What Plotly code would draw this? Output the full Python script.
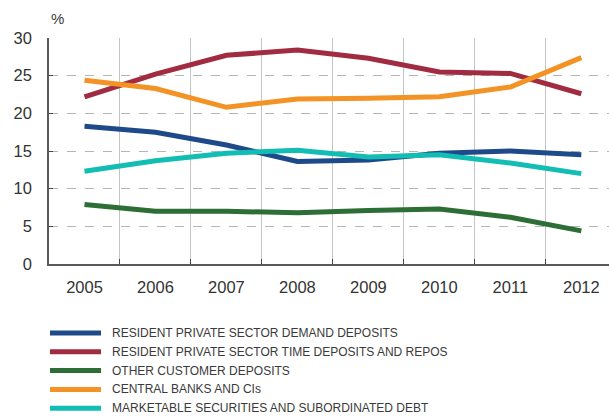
import plotly.graph_objects as go

# Funding structure by source, % of total
years = [2005, 2006, 2007, 2008, 2009, 2010, 2011, 2012]

demand_deposits = [18.3, 17.5, 15.8, 13.6, 13.8, 14.7, 15.0, 14.5]
time_deposits_repos = [22.2, 25.2, 27.7, 28.4, 27.3, 25.5, 25.3, 22.6]
other_customer = [7.9, 7.0, 7.0, 6.8, 7.1, 7.3, 6.2, 4.4]
central_banks = [24.4, 23.3, 20.8, 21.9, 22.0, 22.2, 23.5, 27.4]
securities_debt = [12.3, 13.7, 14.7, 15.1, 14.2, 14.5, 13.4, 12.0]

series_names = [
    "RESIDENT PRIVATE SECTOR DEMAND DEPOSITS",
    "RESIDENT PRIVATE SECTOR TIME DEPOSITS AND REPOS",
    "OTHER CUSTOMER DEPOSITS",
    "CENTRAL BANKS AND CIs",
    "MARKETABLE SECURITIES AND SUBORDINATED DEBT",
]
series_values = [demand_deposits, time_deposits_repos, other_customer,
                 central_banks, securities_debt]
colors = ["#1f4a8a", "#a12c42", "#2c6e35", "#f39325", "#12bdb3"]

y_ticks = [0, 5, 10, 15, 20, 25, 30]

fig = go.Figure()
for name, vals, col in zip(series_names, series_values, colors):
    fig.add_trace(go.Scatter(
        x=years, y=vals, name=name, mode="lines",
        line=dict(color=col, width=5),
        showlegend=False,
    ))

W, H = 609, 416
ml, mr, mt, mb = 49, 0, 38, 152

# Legend drawn below the plot: swatch line + label per series
leg_top = 333
leg_step = 18.8
for i, (name, col) in enumerate(zip(series_names, colors)):
    ypx = leg_top + i * leg_step
    yp = 1 - (ypx - mt) / (H - mt - mb)
    fig.add_shape(
        type="line", xref="paper", yref="paper",
        x0=(50 - ml) / (W - ml - mr), x1=(101 - ml) / (W - ml - mr),
        y0=yp, y1=yp,
        line=dict(color=col, width=5),
    )
    fig.add_annotation(
        xref="paper", yref="paper",
        x=(110 - ml) / (W - ml - mr), y=yp,
        text=name, showarrow=False, xanchor="left", yanchor="middle",
        font=dict(family="Liberation Sans Narrow, Arial Narrow, Liberation Sans, sans-serif",
                  size=12, color="#3a3a3a"),
    )

# "%" unit label above the y axis
fig.add_annotation(
    xref="paper", yref="paper", x=0, y=1, yshift=20,
    text="%", showarrow=False, xanchor="left", yanchor="middle",
    font=dict(family="Liberation Sans, Arial, sans-serif", size=15, color="#3a3a3a"),
)

fig.update_layout(
    width=W, height=H,
    margin=dict(l=ml, r=mr, t=mt, b=mb, pad=0),
    paper_bgcolor="white", plot_bgcolor="white",
    font=dict(family="Liberation Sans, Arial, sans-serif", size=16.5, color="#333333"),
    xaxis=dict(
        range=[2004.5, 2012.39],
        tickmode="array", tickvals=years, ticktext=[str(y) for y in years],
        showgrid=False, ticks="", ticklabelstandoff=7,
        showline=True, linecolor="#5a5a5a", linewidth=1.5,
        zeroline=False, fixedrange=True,
        minor=dict(
            tickmode="array",
            tickvals=[y + 0.5 for y in years],
            showgrid=True, gridcolor="#c4c4c4", gridwidth=1,
            ticks="inside", ticklen=5, tickcolor="#444444", tickwidth=1,
        ),
    ),
    yaxis=dict(
        range=[0, 30], tickmode="array", tickvals=y_ticks,
        showgrid=True, gridcolor="#b5b5b5", griddash="dash", gridwidth=1,
        ticks="inside", ticklen=4, tickcolor="#444444",
        showline=True, linecolor="#5a5a5a", linewidth=1.5,
        zeroline=False, ticklabelstandoff=12, fixedrange=True,
    ),
)

fig.write_html("out.html")
